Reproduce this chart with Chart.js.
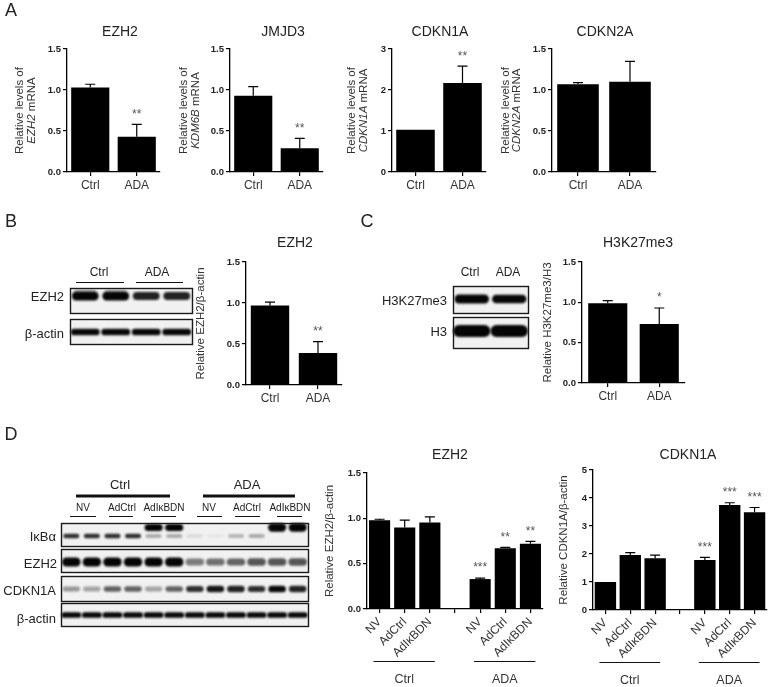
<!DOCTYPE html>
<html>
<head>
<meta charset="utf-8">
<script src="https://cdn.jsdelivr.net/npm/chart.js@4.4.1/dist/chart.umd.min.js"></script>
<style>
  body { margin: 0; background: #fff; }
  #stage { position: relative; width: 772px; height: 687px; overflow: hidden; font-family: 'Liberation Sans', Arial, sans-serif; color: #222; }
  .t { position: absolute; white-space: nowrap; line-height: 1; }
  canvas { position: absolute; }
</style>
</head>
<body>
<div id="stage"><canvas id="blots" width="772" height="687" style="left:0;top:0"></canvas></div>
<script>
const FONT = "'Liberation Sans', Arial, sans-serif";

// data
const groupsA = ["Ctrl", "ADA"];
const groupsD = ["NV", "AdCtrl", "AdIκBDN", "", "NV", "AdCtrl", "AdIκBDN"];
const ticksHalf = [0, 0.5, 1, 1.5];
const ticks3 = [0, 1, 2, 3];
const ticks5 = [0, 1, 2, 3, 4, 5];

const ezh2Mrna = [1.03, 0.43];
const ezh2MrnaErr = [0.04, 0.15];
const ezh2MrnaStars = ["", "**"];

const kdm6bMrna = [0.93, 0.29];
const kdm6bMrnaErr = [0.11, 0.12];
const kdm6bMrnaStars = ["", "**"];

const cdkn1aMrna = [1.03, 2.17];
const cdkn1aMrnaErr = [0, 0.41];
const cdkn1aMrnaStars = ["", "**"];

const cdkn2aMrna = [1.07, 1.10];
const cdkn2aMrnaErr = [0.02, 0.25];
const cdkn2aMrnaStars = ["", ""];

const ezh2Prot = [0.97, 0.39];
const ezh2ProtErr = [0.04, 0.14];
const ezh2ProtStars = ["", "**"];

const h3k27Prot = [0.99, 0.73];
const h3k27ProtErr = [0.03, 0.20];
const h3k27ProtStars = ["", "*"];

const ezh2D = [0.98, 0.90, 0.955, null, 0.33, 0.67, 0.72];
const ezh2DErr = [0.01, 0.08, 0.06, null, 0.01, 0.01, 0.025];
const ezh2DStars = ["", "", "", "", "***", "**", "**"];

const cdkn1aD = [1.0, 1.96, 1.85, null, 1.79, 3.75, 3.49];
const cdkn1aDErr = [0, 0.09, 0.11, null, 0.09, 0.08, 0.17];
const cdkn1aDStars = ["", "", "", "", "***", "***", "***"];

// blot band strengths (per lane)
const bBlotEzh2 = [1, 1, 0.8, 0.8];
const bBlotEzh2Upper = [0.3, 0.3, 0, 0];
const bBlotActin = [0.9, 0.9, 0.9, 0.9];
const cBlotH3k27 = [1, 0.9];
const cBlotH3 = [1, 1];
const dBlotIkbaLow = [0.75, 0.75, 0.75, 0.75, 0.3, 0.3, 0.1, 0.05, 0.25, 0.3, 0, 0];
const dBlotIkbaHigh = [0, 0, 0, 0, 1, 1, 0, 0, 0, 0, 1.4, 1.4];
const dBlotEzh2 = [1, 1, 1, 1, 1, 1, 0.45, 0.5, 0.55, 0.6, 0.6, 0.6];
const dBlotCdkn1a = [0.35, 0.3, 0.55, 0.55, 0.3, 0.55, 0.75, 0.85, 0.8, 0.75, 0.9, 0.8];
const dBlotActin = [0.9, 0.9, 0.9, 0.9, 0.9, 0.9, 0.9, 0.9, 0.9, 0.9, 0.9, 0.9];

const stage = document.getElementById("stage");

function label(text, x, y, size, align, extra) {
  const d = document.createElement("div");
  d.className = "t";
  d.textContent = text;
  d.style.left = x + "px";
  d.style.top = y + "px";
  d.style.fontSize = size + "px";
  const tx = align === "right" ? "-100%" : align === "left" ? "0" : "-50%";
  d.style.transform = `translate(${tx},-50%)`;
  if (extra) Object.assign(d.style, extra);
  stage.appendChild(d);
}

// ---------- blots ----------
const bctx = document.getElementById("blots").getContext("2d");

function band(cx, cy, w, h, a) {
  if (a <= 0) return;
  bctx.save();
  bctx.filter = "blur(1.1px)";
  bctx.fillStyle = `rgba(5,5,5,${Math.min(a * 1.1, 1)})`;
  bctx.beginPath();
  bctx.roundRect(cx - w / 2, cy - h / 2, w, h, h / 2);
  bctx.fill();
  bctx.restore();
}

function blotRow(x, y, w, h, lanes, rows) {
  bctx.fillStyle = "#f1f1f1";
  bctx.fillRect(x, y, w, h);
  const lw = w / lanes;
  rows.forEach(r => {
    r.vals.forEach((a, i) => {
      band(x + lw * (i + 0.5), y + r.dy, lw * r.bw, r.bh * (0.55 + 0.45 * Math.min(a, 1.4)), a);
    });
  });
  bctx.strokeStyle = "#1a1a1a";
  bctx.lineWidth = 1.4;
  bctx.strokeRect(x + 0.5, y + 0.5, w, h);
}

function hline(x1, x2, y, w) {
  bctx.strokeStyle = "#111";
  bctx.lineWidth = w;
  bctx.beginPath();
  bctx.moveTo(x1, y);
  bctx.lineTo(x2, y);
  bctx.stroke();
}

// B blot
blotRow(70, 288, 122, 25, 4, [
  { vals: bBlotEzh2Upper, dy: 3, bh: 3, bw: 0.7 },
  { vals: bBlotEzh2, dy: 8, bh: 9, bw: 0.88 }
]);
blotRow(70, 319, 122, 25, 4, [{ vals: bBlotActin, dy: 13, bh: 7, bw: 0.95 }]);
hline(76, 124, 282.5, 1);
hline(136, 183, 282.5, 1);

// C blot
blotRow(453, 286, 75, 27, 2, [{ vals: cBlotH3k27, dy: 13, bh: 9, bw: 0.92 }]);
blotRow(453, 317, 75, 31, 2, [{ vals: cBlotH3, dy: 14, bh: 12, bw: 1.0 }]);

// D blot
blotRow(61, 523, 247, 23, 12, [
  { vals: dBlotIkbaLow, dy: 13, bh: 5, bw: 0.78 },
  { vals: dBlotIkbaHigh, dy: 4.5, bh: 7, bw: 0.88 }
]);
blotRow(61, 549, 247, 23, 12, [{ vals: dBlotEzh2, dy: 13, bh: 9, bw: 0.9 }]);
blotRow(61, 576, 247, 25, 12, [{ vals: dBlotCdkn1a, dy: 13, bh: 7, bw: 0.85 }]);
blotRow(61, 603, 247, 23, 12, [{ vals: dBlotActin, dy: 12, bh: 6, bw: 0.97 }]);
hline(76, 170, 496, 3);
hline(203, 295, 496, 3);
[[70, 96], [109, 133], [151, 176], [197, 222], [235, 260], [277, 302]].forEach(p => hline(p[0], p[1], 516.5, 1));

// panel letters + blot labels
label("A", 11, 10, 18);
label("B", 11, 221, 18);
label("C", 367, 221, 18);
label("D", 11, 434, 18);

label("Ctrl", 99, 272, 12);
label("ADA", 157, 272, 12);
label("EZH2", 64, 296, 13, "right");
label("β-actin", 64, 333, 13, "right");

label("Ctrl", 470, 272, 12);
label("ADA", 508, 272, 12);
label("H3K27me3", 447, 300, 13, "right");
label("H3", 447, 331, 13, "right");

label("Ctrl", 120, 484, 13);
label("ADA", 247, 484, 13);
[["NV", 83], ["AdCtrl", 122], ["AdIκBDN", 164], ["NV", 209], ["AdCtrl", 247], ["AdIκBDN", 290]]
  .forEach(p => label(p[0], p[1], 508, 10));
label("IκBα", 56, 536, 13, "right");
label("EZH2", 57, 563, 13, "right");
label("CDKN1A", 56, 590, 13, "right");
label("β-actin", 56, 618, 13, "right");

// ---------- charts ----------
const decor = {
  id: "decor",
  afterDatasetsDraw(chart) {
    const s = chart.canvas.$spec;
    const ctx = chart.ctx;
    const y = chart.scales.y;
    const meta = chart.getDatasetMeta(0);
    ctx.save();
    ctx.strokeStyle = "#000";
    ctx.lineWidth = 1.2;
    meta.data.forEach((bar, i) => {
      const v = s.values[i];
      if (v == null) return;
      const e = s.errs[i] || 0;
      const top = y.getPixelForValue(v + e);
      if (e > 0) {
        ctx.beginPath();
        ctx.moveTo(bar.x, bar.y);
        ctx.lineTo(bar.x, top);
        ctx.moveTo(bar.x - s.cap, top);
        ctx.lineTo(bar.x + s.cap, top);
        ctx.stroke();
      }
      if (s.stars[i]) {
        ctx.fillStyle = "#555";
        ctx.font = `12px ${FONT}`;
        ctx.textAlign = "center";
        ctx.textBaseline = "middle";
        ctx.fillText(s.stars[i], bar.x, top - 10);
      }
    });
    ctx.restore();
  },
  afterDraw(chart) {
    const s = chart.canvas.$spec;
    const ctx = chart.ctx;
    const area = chart.chartArea;
    ctx.save();
    // title
    ctx.fillStyle = "#222";
    ctx.font = `14px ${FONT}`;
    ctx.textAlign = "center";
    ctx.textBaseline = "middle";
    ctx.fillText(s.title, s.tx - s.left, s.ty - s.top);
    // y title (rotated, may mix italic)
    const cy = (area.top + area.bottom) / 2;
    s.yTitle.forEach((line, li) => {
      ctx.save();
      ctx.translate(area.left + s.ytx[li], cy);
      ctx.rotate(-Math.PI / 2);
      ctx.textBaseline = "middle";
      ctx.textAlign = "left";
      ctx.fillStyle = "#333";
      const segs = line.map(([t, it]) => {
        ctx.font = `${it ? "italic " : ""}11.5px ${FONT}`;
        return { t, it, w: ctx.measureText(t).width };
      });
      let xx = -segs.reduce((a, b) => a + b.w, 0) / 2;
      segs.forEach(sg => {
        ctx.font = `${sg.it ? "italic " : ""}11.5px ${FONT}`;
        ctx.fillText(sg.t, xx, 0);
        xx += sg.w;
      });
      ctx.restore();
    });
    // group lines under rotated labels
    if (s.groups) {
      const x = chart.scales.x;
      s.groups.forEach(g => {
        const x1 = x.getPixelForValue(g.from) - 6;
        const x2 = x.getPixelForValue(g.to) + 5;
        ctx.strokeStyle = "#111";
        ctx.lineWidth = 1;
        ctx.beginPath();
        ctx.moveTo(x1, area.bottom + 52.5);
        ctx.lineTo(x2, area.bottom + 52.5);
        ctx.stroke();
        ctx.fillStyle = "#333";
        ctx.font = `12.5px ${FONT}`;
        ctx.textAlign = "center";
        ctx.textBaseline = "middle";
        ctx.fillText(g.text, (x1 + x2) / 2, area.bottom + 71);
      });
    }
    ctx.restore();
  }
};

const WY = 60, PADTOP = 30, PADRIGHT = 4;

function makeBarChart(s) {
  const cv = document.createElement("canvas");
  s.left = s.L - WY;
  s.top = s.T - PADTOP;
  const w = s.R + PADRIGHT - s.left;
  const h = s.B + s.hx - s.top;
  cv.width = w;
  cv.height = h;
  cv.style.left = s.left + "px";
  cv.style.top = s.top + "px";
  cv.$spec = s;
  stage.appendChild(cv);
  return new Chart(cv, {
    type: "bar",
    data: {
      labels: s.labels,
      datasets: [{
        data: s.values,
        backgroundColor: "#000",
        borderWidth: 0,
        barPercentage: s.barPct,
        categoryPercentage: 1
      }]
    },
    options: {
      responsive: false,
      animation: false,
      layout: { padding: { left: 0, top: PADTOP, right: PADRIGHT, bottom: 0 } },
      plugins: { legend: { display: false }, tooltip: { enabled: false }, title: { display: false } },
      scales: {
        x: {
          offset: true,
          grid: { offset: false, drawOnChartArea: false, tickLength: 4, color: "#000", lineWidth: 1.2 },
          border: { color: "#000", width: 1.3 },
          ticks: {
            color: "#333",
            font: { family: FONT, size: 12 },
            padding: 2,
            autoSkip: false,
            maxRotation: s.rot,
            minRotation: s.rot
          },
          afterFit: sc => { sc.height = s.hx; }
        },
        y: {
          min: 0,
          max: s.ticks[s.ticks.length - 1],
          afterBuildTicks: sc => { sc.ticks = s.ticks.map(v => ({ value: v })); },
          afterFit: sc => { sc.width = WY; },
          grid: { drawOnChartArea: false, tickLength: 4, color: "#000", lineWidth: 1.2 },
          border: { color: "#000", width: 1.3 },
          ticks: {
            color: "#222",
            font: { family: FONT, size: 9.5, weight: "bold" },
            padding: 2,
            callback: v => v.toFixed(s.dec)
          }
        }
      }
    },
    plugins: [decor]
  });
}

const mrnaTitle = gene => [[["Relative levels of", false]], [[gene, true], [" mRNA", false]]];

makeBarChart({ title: "EZH2", tx: 120, ty: 32, L: 67, T: 49, B: 172, R: 160, hx: 22, rot: 0,
  labels: groupsA, values: ezh2Mrna, errs: ezh2MrnaErr, stars: ezh2MrnaStars, ticks: ticksHalf, dec: 1,
  yTitle: mrnaTitle("EZH2"), ytx: [-47, -35], barPct: 0.82, cap: 5 });
makeBarChart({ title: "JMJD3", tx: 283, ty: 32, L: 230, T: 49, B: 172, R: 323, hx: 22, rot: 0,
  labels: groupsA, values: kdm6bMrna, errs: kdm6bMrnaErr, stars: kdm6bMrnaStars, ticks: ticksHalf, dec: 1,
  yTitle: mrnaTitle("KDM6B"), ytx: [-46, -34], barPct: 0.82, cap: 5 });
makeBarChart({ title: "CDKN1A", tx: 440, ty: 32, L: 392, T: 49, B: 172, R: 486, hx: 22, rot: 0,
  labels: groupsA, values: cdkn1aMrna, errs: cdkn1aMrnaErr, stars: cdkn1aMrnaStars, ticks: ticks3, dec: 0,
  yTitle: mrnaTitle("CDKN1A"), ytx: [-40, -28], barPct: 0.82, cap: 5 });
makeBarChart({ title: "CDKN2A", tx: 605, ty: 32, L: 552, T: 49, B: 172, R: 656, hx: 22, rot: 0,
  labels: groupsA, values: cdkn2aMrna, errs: cdkn2aMrnaErr, stars: cdkn2aMrnaStars, ticks: ticksHalf, dec: 1,
  yTitle: mrnaTitle("CDKN2A"), ytx: [-46, -35], barPct: 0.8, cap: 5 });

makeBarChart({ title: "EZH2", tx: 295, ty: 243, L: 246, T: 262, B: 385, R: 342, hx: 22, rot: 0,
  labels: groupsA, values: ezh2Prot, errs: ezh2ProtErr, stars: ezh2ProtStars, ticks: ticksHalf, dec: 1,
  yTitle: [[["Relative EZH2/β-actin", false]]], ytx: [-45], barPct: 0.8, cap: 5 });
makeBarChart({ title: "H3K27me3", tx: 638, ty: 243, L: 582, T: 262, B: 383, R: 685, hx: 22, rot: 0,
  labels: groupsA, values: h3k27Prot, errs: h3k27ProtErr, stars: h3k27ProtStars, ticks: ticksHalf, dec: 1,
  yTitle: [[["Relative H3K27me3/H3", false]]], ytx: [-34], barPct: 0.76, cap: 5 });

makeBarChart({ title: "EZH2", tx: 450, ty: 455, L: 367, T: 473, B: 609, R: 543, hx: 82, rot: 45,
  labels: groupsD, values: ezh2D, errs: ezh2DErr, stars: ezh2DStars, ticks: ticksHalf, dec: 1,
  yTitle: [[["Relative EZH2/β-actin", false]]], ytx: [-37], barPct: 0.84, cap: 5,
  groups: [{ from: 0, to: 2, text: "Ctrl" }, { from: 4, to: 6, text: "ADA" }] });
makeBarChart({ title: "CDKN1A", tx: 688, ty: 455, L: 593, T: 470, B: 610, R: 767, hx: 82, rot: 45,
  labels: groupsD, values: cdkn1aD, errs: cdkn1aDErr, stars: cdkn1aDStars, ticks: ticks5, dec: 0,
  yTitle: [[["Relative CDKN1A/β-actin", false]]], ytx: [-29], barPct: 0.86, cap: 5,
  groups: [{ from: 0, to: 2, text: "Ctrl" }, { from: 4, to: 6, text: "ADA" }] });
</script>
</body>
</html>
